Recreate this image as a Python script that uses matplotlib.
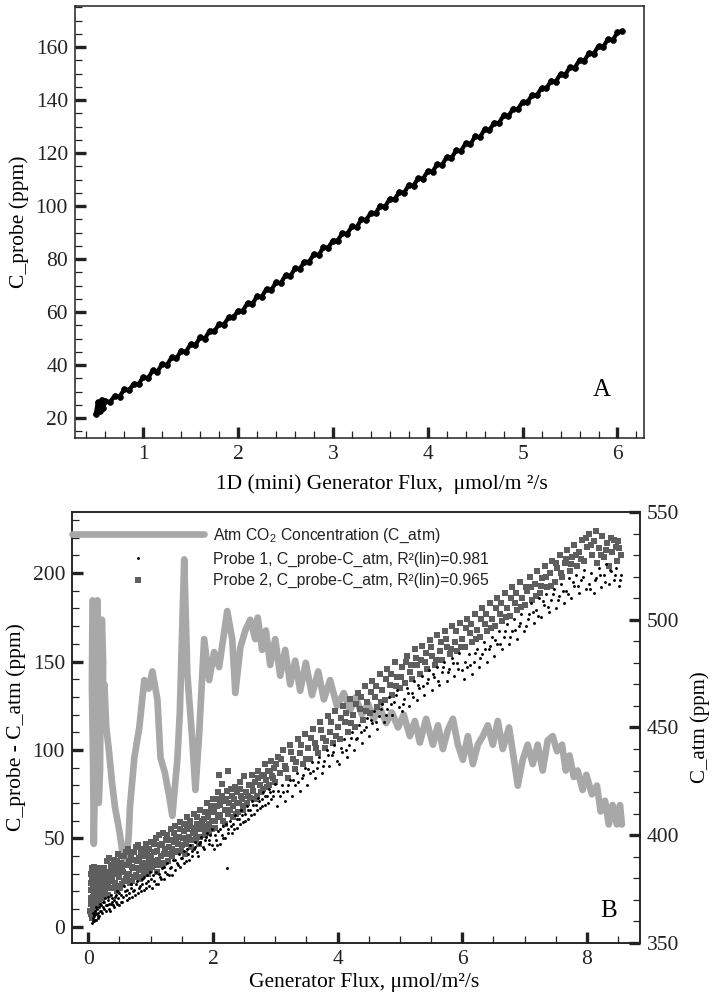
import matplotlib
matplotlib.use('Agg')
import matplotlib.pyplot as plt
from matplotlib.ticker import MultipleLocator

plt.rcParams['font.family'] = ['Liberation Serif', 'DejaVu Serif']
plt.rcParams['mathtext.default'] = 'regular'

# ---- panel A : 1D (mini) generator ----
flux_a = [0.50, 0.52, 0.54, 0.56, 0.58, 0.60, 0.65, 0.70, 0.75, 0.80, 0.85, 0.90, 0.95,
          1.00, 1.05, 1.10, 1.15, 1.20, 1.25, 1.30, 1.35, 1.40, 1.45, 1.50, 1.55, 1.60,
          1.65, 1.70, 1.75, 1.80, 1.85, 1.90, 1.95, 2.00, 2.05, 2.10, 2.15, 2.20, 2.25,
          2.30, 2.35, 2.40, 2.45, 2.50, 2.55, 2.60, 2.65, 2.70, 2.75, 2.80, 2.85, 2.90,
          2.95, 3.00, 3.05, 3.10, 3.15, 3.20, 3.25, 3.30, 3.35, 3.40, 3.45, 3.50, 3.55,
          3.60, 3.65, 3.70, 3.75, 3.80, 3.85, 3.90, 3.95, 4.00, 4.05, 4.10, 4.15, 4.20,
          4.25, 4.30, 4.35, 4.40, 4.45, 4.50, 4.55, 4.60, 4.65, 4.70, 4.75, 4.80, 4.85,
          4.90, 4.95, 5.00, 5.05, 5.10, 5.15, 5.20, 5.25, 5.30, 5.35, 5.40, 5.45, 5.50,
          5.55, 5.60, 5.65, 5.70, 5.75, 5.80, 5.85, 5.90, 5.95, 6.00, 6.05]
cprobe_a = [21.5, 26.0, 22.5, 27.0, 24.0, 26.5, 26.0, 28.5, 28.0, 31.0, 30.5, 33.0, 32.8,
            35.5, 35.0, 38.0, 37.5, 40.5, 40.0, 43.0, 42.5, 45.5, 45.0, 48.0, 47.5, 50.5,
            50.0, 53.0, 52.8, 55.5, 55.3, 58.0, 58.0, 60.5, 60.5, 63.5, 63.0, 66.0, 65.8,
            68.8, 68.3, 71.3, 70.8, 74.0, 73.5, 76.5, 76.3, 79.0, 79.0, 82.0, 81.5, 84.5,
            84.3, 87.0, 87.0, 89.8, 89.5, 92.3, 92.0, 95.0, 94.8, 97.5, 97.3, 100.2, 99.8,
            102.8, 102.5, 105.4, 105.0, 108.0, 107.7, 110.6, 110.3, 113.2, 113.0, 115.8, 115.5, 118.5,
            118.2, 121.0, 120.8, 123.7, 123.4, 126.3, 126.0, 129.0, 128.6, 131.5, 131.3, 134.2, 133.9,
            136.8, 136.5, 139.4, 139.1, 142.0, 141.8, 144.6, 144.4, 147.3, 147.0, 149.9, 149.6, 152.5,
            152.2, 155.1, 154.9, 157.7, 157.5, 160.4, 160.1, 163.0, 162.7, 165.5, 166.0]

# ---- panel B : atmospheric CO2 (right axis) ----
atm_flux = [0.07, 0.06, 0.08, 0.09, 0.11, 0.10, 0.12, 0.15, 0.16, 0.14, 0.17, 0.19,
            0.20, 0.22, 0.24, 0.23, 0.26, 0.29, 0.33, 0.38, 0.43, 0.50,
            0.56, 0.61, 0.65, 0.67, 0.74, 0.82, 0.90, 0.97, 1.03, 1.11, 1.16, 1.23,
            1.30, 1.35, 1.43, 1.47, 1.54, 1.59, 1.67, 1.72, 1.78, 1.86, 1.94, 2.02,
            2.10, 2.23, 2.31, 2.36, 2.44, 2.52, 2.60, 2.68, 2.72, 2.79, 2.85, 2.92,
            3.00, 3.08, 3.16, 3.24, 3.32, 3.40, 3.49, 3.59, 3.69, 3.78, 3.88, 3.99,
            4.10, 4.20, 4.29, 4.39, 4.49, 4.58, 4.68, 4.78, 4.87, 4.97, 5.06, 5.16,
            5.24, 5.32, 5.42, 5.53, 5.61, 5.69, 5.77, 5.85, 5.93, 6.01, 6.09, 6.17,
            6.25, 6.33, 6.41, 6.49, 6.57, 6.65, 6.75, 6.83, 6.89, 6.97, 7.05, 7.13,
            7.21, 7.29, 7.37, 7.45, 7.52, 7.60, 7.66, 7.72, 7.79, 7.85, 7.93, 7.99,
            8.08, 8.16, 8.22, 8.29, 8.35, 8.41, 8.48, 8.53, 8.56]
atm_ppm = [509, 470, 430, 396, 430, 470, 505, 509, 475, 440, 415, 430,
           470, 500, 480, 455, 470, 450, 440, 425, 413, 402,
           390, 388, 400, 413, 436, 450, 472, 468, 476, 463, 436, 429,
           418, 409, 435, 457, 528, 475, 444, 421, 447, 491, 472, 485,
           478, 504, 491, 466, 487, 495, 500, 491, 501, 486, 495, 479,
           491, 474, 486, 470, 481, 467, 480, 465, 476, 463, 472, 460,
           466, 458, 464, 456, 461, 454, 459, 452, 457, 450, 456, 446,
           453, 443, 454, 442, 451, 440, 449, 454, 442, 435, 446, 433,
           442, 446, 451, 442, 453, 440, 450, 435, 423, 435, 442, 433,
           442, 430, 444, 446, 439, 442, 430, 437, 427, 430, 421, 428,
           419, 423, 411, 416, 405, 414, 405, 414, 405]

# ---- panel B : probe 2 (squares) ----
p2_flux = [0.04, 0.05, 0.05, 0.06, 0.06, 0.07, 0.07, 0.08, 0.08, 0.09, 0.09, 0.10, 0.10,
           0.11, 0.11, 0.12, 0.12, 0.13, 0.14, 0.14, 0.15, 0.16, 0.17, 0.18, 0.19, 0.20,
           0.22, 0.24, 0.25, 0.27, 0.29, 0.30, 0.32, 0.33, 0.34, 0.36, 0.38, 0.40, 0.41,
           0.43, 0.45, 0.47, 0.48, 0.50, 0.52, 0.54, 0.56, 0.58, 0.60, 0.62, 0.64, 0.66,
           0.68, 0.70, 0.72, 0.74, 0.76, 0.78, 0.80, 0.82, 0.84, 0.86, 0.88, 0.90, 0.92,
           0.94, 0.96, 0.98, 1.00,
           1.02, 1.05, 1.08, 1.10, 1.12, 1.15, 1.18, 1.20, 1.22, 1.25, 1.28, 1.30, 1.33,
           1.35, 1.38, 1.40, 1.43, 1.45, 1.48, 1.50, 1.53, 1.55, 1.58, 1.60, 1.63, 1.65,
           1.68, 1.70, 1.73, 1.75, 1.78, 1.80, 1.83, 1.85, 1.88, 1.90, 1.93, 1.95, 1.98, 2.00,
           2.03, 2.06, 2.08, 2.10, 2.12, 2.15, 2.17, 2.20, 2.22, 2.25, 2.27, 2.30, 2.33,
           2.35, 2.38, 2.40, 2.43, 2.45, 2.48, 2.50, 2.53, 2.55, 2.58, 2.60, 2.63, 2.65,
           2.68, 2.70, 2.73, 2.75, 2.78, 2.80, 2.83, 2.85, 2.88, 2.90, 2.93, 2.95, 2.98, 3.00,
           3.04, 3.08, 3.12, 3.16, 3.20, 3.24, 3.28, 3.32, 3.36, 3.40, 3.44, 3.48, 3.52,
           3.56, 3.60, 3.64, 3.68, 3.72, 3.76, 3.80, 3.84, 3.88, 3.92, 3.96, 4.00,
           4.04, 4.08, 4.12, 4.16, 4.20, 4.24, 4.28, 4.32, 4.36, 4.40, 4.44, 4.48, 4.52,
           4.56, 4.60, 4.64, 4.68, 4.72, 4.76, 4.80, 4.84, 4.88, 4.92, 4.96, 5.00,
           5.04, 5.08, 5.12, 5.16, 5.20, 5.24, 5.28, 5.32, 5.36, 5.40, 5.44, 5.48, 5.52,
           5.56, 5.60, 5.64, 5.68, 5.72, 5.76, 5.80, 5.84, 5.88, 5.92, 5.96, 6.00,
           6.04, 6.08, 6.12, 6.16, 6.20, 6.24, 6.28, 6.32, 6.36, 6.40, 6.44, 6.48, 6.52,
           6.56, 6.60, 6.64, 6.68, 6.72, 6.76, 6.80, 6.84, 6.88, 6.92, 6.96, 7.00,
           7.04, 7.08, 7.12, 7.16, 7.20, 7.24, 7.28, 7.32, 7.36, 7.40, 7.44, 7.48, 7.52,
           7.56, 7.60, 7.64, 7.68, 7.72, 7.76, 7.80, 7.84, 7.88, 7.92, 7.96, 8.00,
           8.04, 8.08, 8.12, 8.16, 8.20, 8.24, 8.28, 8.32, 8.36, 8.40, 8.44, 8.48, 8.52, 8.55,
           # second pass through the cloud
           0.03, 0.04, 0.04, 0.05, 0.06, 0.07, 0.08, 0.09, 0.10, 0.10, 0.11, 0.12, 0.13,
           0.15, 0.15, 0.17, 0.18, 0.19, 0.21, 0.22, 0.23, 0.26, 0.28, 0.30, 0.31, 0.35,
           0.37, 0.39, 0.42, 0.44, 0.46, 0.49,
           0.51, 0.53, 0.55, 0.57, 0.59, 0.61, 0.63, 0.65, 0.67, 0.69, 0.71, 0.73, 0.75,
           0.77, 0.79, 0.81, 0.83, 0.85, 0.87, 0.89, 0.91, 0.93, 0.95, 0.97, 0.99,
           1.01, 1.04, 1.06, 1.09, 1.11, 1.13, 1.16, 1.19, 1.21, 1.24, 1.26, 1.29, 1.31,
           1.34, 1.37, 1.39, 1.41, 1.44, 1.47, 1.49, 1.52, 1.54, 1.57, 1.59, 1.62, 1.64,
           1.67, 1.69, 1.72, 1.74, 1.77, 1.79, 1.82, 1.84, 1.87, 1.89, 1.92, 1.94, 1.97, 1.99,
           2.02, 2.04, 2.07, 2.09, 2.11, 2.14, 2.16, 2.19, 2.21, 2.24, 2.26, 2.29, 2.32,
           2.34, 2.37, 2.39, 2.42, 2.44, 2.47, 2.49,
           2.56, 2.62, 2.67, 2.72, 2.77, 2.82, 2.87, 2.92, 2.97, 3.02, 3.10, 3.18, 3.26,
           3.34, 3.42, 3.50, 3.58, 3.66, 3.74, 3.82, 3.90, 3.98,
           4.06, 4.14, 4.22, 4.30, 4.38, 4.46, 4.54, 4.62, 4.70, 4.78, 4.86, 4.94, 5.02,
           5.10, 5.18, 5.26, 5.34, 5.42, 5.50, 5.58, 5.66, 5.74, 5.82, 5.90, 5.98, 6.06,
           6.14, 6.22, 6.30, 6.38, 6.46, 6.54, 6.62, 6.70, 6.78, 6.86, 6.94, 7.02, 7.10,
           7.18, 7.26, 7.34, 7.42, 7.50, 7.58, 7.66, 7.74, 7.82, 7.90, 7.98, 8.06, 8.14,
           8.22, 8.30, 8.38, 8.46, 8.50]
p2_ppm = [7, 13, 21, 28, 33, 10, 17, 24, 31, 14, 20, 27, 34,
          11, 18, 24, 30, 15, 22, 28, 33, 19, 26, 31, 21, 28,
          16, 24, 33, 20, 29, 37, 18, 39, 26, 33, 22, 30, 38,
          25, 34, 20, 41, 28, 36, 24, 31, 40, 27, 35, 44, 30,
          38, 26, 33, 42, 29, 37, 46, 32, 40, 28, 36, 44, 33,
          41, 30, 38, 48,
          34, 42, 50, 31, 38, 46, 35, 53, 41, 49, 37, 45, 55,
          40, 48, 57, 43, 51, 59, 46, 54, 41, 62, 49, 57, 45,
          53, 64, 50, 58, 47, 66, 55, 61, 52, 70, 58, 65, 55, 72,
          60, 68, 76, 86, 63, 81, 71, 58, 77, 88, 66, 74, 62,
          79, 70, 65, 82, 74, 68, 85, 76, 70, 80, 73, 86, 77,
          82, 74, 88, 80, 85, 78, 92, 83, 88, 80, 94, 85, 90, 82,
          96, 87, 100, 91, 84, 103, 95, 89, 106, 98, 92, 109, 101,
          95, 112, 104, 98, 116, 107, 101, 119, 110, 104, 122, 113,
          106, 125, 116, 110, 129, 120, 113, 132, 123, 117, 136, 127, 121,
          139, 130, 124, 143, 134, 128, 146, 137, 131, 150, 141, 135,
          147, 138, 153, 144, 140, 157, 148, 143, 159, 150, 146, 162, 153,
          148, 165, 156, 151, 167, 158, 154, 170, 161, 156, 172, 163,
          158, 174, 166, 161, 177, 168, 164, 180, 171, 167, 183, 174, 170,
          186, 177, 173, 189, 180, 176, 192, 183, 179, 195, 186, 182,
          190, 198, 185, 194, 201, 189, 197, 204, 192, 200, 207, 195, 203,
          210, 198, 206, 213, 201, 209, 216, 204, 212, 219, 207, 215,
          222, 210, 218, 206, 214, 221, 209, 217, 204, 212, 219, 207, 214, 210,
          9, 16, 25, 30, 5, 22, 14, 29, 8, 19, 25, 12, 33,
          16, 26, 21, 13, 32, 24, 31, 19, 27, 22, 31, 25, 29,
          35, 27, 32, 23, 37, 31,
          22, 40, 33, 26, 35, 42, 29, 37, 25, 41, 34, 28, 38,
          45, 33, 39, 27, 43, 34, 31, 40, 47, 36, 44, 32,
          40, 37, 47, 35, 43, 52, 40, 47, 36, 44, 52, 41, 49,
          44, 53, 42, 50, 47, 55, 43, 50, 58, 47, 55, 51, 60,
          49, 56, 53, 62, 55, 51, 60, 57, 65, 55, 62, 53, 68, 60,
          65, 56, 72, 62, 69, 74, 60, 66, 72, 64, 70, 78, 68,
          72, 64, 76, 70, 78, 72, 66,
          74, 80, 72, 84, 76, 86, 79, 88, 84, 92, 95, 89, 99,
          93, 103, 95, 107, 101, 111, 105, 116, 108,
          118, 121, 115, 126, 130, 122, 133, 136, 127, 140, 143, 136, 141,
          150, 148, 152, 151, 155, 158, 151, 161, 163, 157, 167, 158, 169,
          171, 163, 174, 177, 169, 180, 183, 175, 186, 189, 181, 192, 192,
          187, 193, 198, 193, 206, 200, 208, 205, 210, 208, 220, 216, 224,
          210, 213, 220, 215, 218]

# ---- panel B : probe 1 (dots) ----
p1_flux = [0.06, 0.07, 0.08, 0.09, 0.10, 0.11, 0.12, 0.13, 0.14, 0.15, 0.16, 0.17, 0.18,
           0.19, 0.20, 0.22, 0.24, 0.26, 0.28, 0.30, 0.32, 0.34, 0.36, 0.38, 0.40, 0.42,
           0.44, 0.46, 0.48, 0.50,
           0.53, 0.56, 0.59, 0.62, 0.65, 0.68, 0.71, 0.74, 0.77, 0.80, 0.83, 0.86, 0.89,
           0.92, 0.95, 0.98, 1.00,
           1.03, 1.06, 1.09, 1.12, 1.15, 1.18, 1.21, 1.24, 1.27, 1.30, 1.33, 1.36, 1.39,
           1.42, 1.45, 1.48, 1.51, 1.54, 1.57, 1.60, 1.63, 1.66, 1.69, 1.72, 1.75, 1.78,
           1.81, 1.84, 1.87, 1.90, 1.93, 1.96, 1.99,
           2.02, 2.05, 2.08, 2.11, 2.14, 2.17, 2.20, 2.22, 2.24, 2.27, 2.30, 2.33, 2.36,
           2.39, 2.42, 2.45, 2.48, 2.51, 2.54, 2.57, 2.60, 2.63, 2.66, 2.69, 2.72, 2.75,
           2.78, 2.81, 2.84, 2.87, 2.90, 2.93, 2.96, 2.99,
           3.03, 3.07, 3.11, 3.15, 3.19, 3.23, 3.27, 3.31, 3.35, 3.39, 3.43, 3.47, 3.51,
           3.55, 3.59, 3.63, 3.67, 3.71, 3.75, 3.79, 3.83, 3.87, 3.91, 3.95, 3.99,
           4.03, 4.07, 4.11, 4.15, 4.19, 4.23, 4.27, 4.31, 4.35, 4.39, 4.43, 4.47, 4.51,
           4.55, 4.59, 4.63, 4.67, 4.71, 4.75, 4.79, 4.83, 4.87, 4.91, 4.95, 4.99,
           5.03, 5.07, 5.11, 5.15, 5.19, 5.23, 5.27, 5.31, 5.35, 5.39, 5.43, 5.47, 5.51,
           5.55, 5.59, 5.63, 5.67, 5.71, 5.75, 5.79, 5.83, 5.87, 5.91, 5.95, 5.99,
           6.03, 6.07, 6.11, 6.15, 6.19, 6.23, 6.27, 6.31, 6.35, 6.39, 6.43, 6.47, 6.51,
           6.55, 6.59, 6.63, 6.67, 6.71, 6.75, 6.79, 6.83, 6.87, 6.91, 6.95, 6.99,
           7.03, 7.07, 7.11, 7.15, 7.19, 7.23, 7.27, 7.31, 7.35, 7.39, 7.43, 7.47, 7.51,
           7.55, 7.59, 7.63, 7.67, 7.71, 7.75, 7.79, 7.83, 7.87, 7.91, 7.95, 7.99,
           8.03, 8.07, 8.11, 8.15, 8.19, 8.23, 8.27, 8.31, 8.35, 8.39, 8.43, 8.47, 8.51, 8.55,
           # second pass through the cloud
           0.07, 0.09, 0.11, 0.13, 0.16, 0.19, 0.21, 0.23, 0.25, 0.27, 0.29, 0.31, 0.33,
           0.35, 0.37, 0.39, 0.41, 0.43, 0.45, 0.47, 0.49,
           0.52, 0.55, 0.58, 0.60, 0.63, 0.66, 0.69, 0.72, 0.75, 0.78, 0.81, 0.84, 0.87,
           0.90, 0.93, 0.96, 0.99,
           1.04, 1.08, 1.13, 1.17, 1.22, 1.26, 1.31, 1.35, 1.40, 1.44, 1.49, 1.53, 1.58,
           1.62, 1.67, 1.71, 1.76, 1.80, 1.85, 1.89, 1.94, 1.98,
           2.03, 2.07, 2.12, 2.16, 2.21, 2.25, 2.29, 2.34, 2.38, 2.43, 2.47, 2.52, 2.56,
           2.61, 2.65, 2.70, 2.74, 2.79, 2.83, 2.88, 2.92, 2.97,
           3.05, 3.13, 3.21, 3.29, 3.37, 3.45, 3.53, 3.61, 3.69, 3.77, 3.85, 3.93,
           4.05, 4.13, 4.21, 4.29, 4.37, 4.45, 4.53, 4.61, 4.69, 4.77, 4.85, 4.93,
           5.05, 5.13, 5.21, 5.29, 5.37, 5.45, 5.53, 5.61, 5.69, 5.77, 5.85, 5.93,
           6.05, 6.13, 6.21, 6.29, 6.37, 6.45, 6.53, 6.61, 6.69, 6.77, 6.85, 6.93,
           7.05, 7.13, 7.21, 7.29, 7.37, 7.45, 7.53, 7.61, 7.69, 7.77, 7.85, 7.93,
           8.05, 8.13, 8.21, 8.29, 8.37, 8.45, 8.53]
p1_ppm = [2, 5, 8, 3, 6, 9, 4, 7, 10, 5, 8, 11, 6,
          9, 12, 8, 11, 14, 9, 12, 15, 10, 13, 16, 12, 15,
          18, 13, 16, 19,
          14, 17, 20, 15, 19, 22, 17, 21, 24, 19, 23, 27, 21,
          25, 29, 23, 27,
          22, 26, 31, 24, 28, 33, 27, 31, 36, 29, 34, 38, 32,
          36, 41, 34, 39, 43, 37, 41, 46, 40, 44, 48, 42, 47,
          51, 45, 49, 53, 47, 52, 55,
          44, 49, 54, 47, 52, 57, 50, 33, 55, 60, 53, 58, 63,
          56, 61, 66, 59, 64, 68, 61, 66, 71, 64, 69, 73, 67,
          72, 76, 69, 74, 78, 72, 77, 81,
          68, 74, 80, 71, 77, 83, 74, 80, 87, 77, 84, 90, 80,
          87, 93, 84, 90, 96, 87, 94, 100, 91, 97, 103, 94,
          92, 99, 106, 96, 103, 110, 100, 107, 114, 104, 111, 118, 108,
          115, 122, 112, 119, 126, 116, 123, 130, 120, 127, 134, 124,
          122, 129, 135, 125, 132, 139, 128, 135, 142, 131, 138, 145, 134,
          141, 147, 137, 144, 150, 139, 146, 152, 142, 149, 155, 145,
          140, 147, 154, 143, 150, 157, 147, 154, 161, 150, 157, 164, 153,
          160, 167, 157, 164, 171, 160, 167, 174, 163, 170, 177, 167,
          170, 177, 183, 172, 179, 186, 175, 182, 188, 178, 185, 191, 180,
          187, 194, 183, 190, 197, 186, 193, 199, 189, 196, 202, 191,
          194, 200, 189, 197, 203, 192, 199, 205, 194, 201, 196, 203, 193, 199,
          3, 7, 4, 11, 6, 13, 9, 14, 10, 16, 12, 17, 13,
          9, 18, 14, 11, 17, 14, 20, 12,
          18, 14, 23, 18, 21, 16, 24, 20, 18, 26, 22, 20, 24,
          28, 22, 26, 31,
          29, 24, 30, 27, 34, 30, 33, 29, 38, 35, 39, 36, 44,
          38, 43, 45, 40, 48, 44, 51, 49, 46,
          52, 46, 55, 50, 58, 53, 57, 55, 61, 58, 63, 60, 66,
          63, 69, 66, 71, 68, 74, 70, 76, 74,
          77, 76, 80, 83, 82, 86, 89, 88, 93, 91, 97, 99,
          101, 100, 107, 106, 110, 113, 117, 116, 123, 120, 126, 131,
          126, 132, 130, 137, 136, 140, 143, 139, 147, 144, 149, 146,
          150, 148, 155, 152, 157, 159, 162, 160, 167, 164, 168, 172,
          174, 178, 176, 184, 181, 188, 185, 190, 188, 195, 193, 198,
          191, 196, 199, 195, 202, 199, 196]

atm_color = '#a8a8a8'
p2_color = '#5e5e5e'
spine_color = '#222222'


def style_axis(ax):
    for s in ax.spines.values():
        s.set_linewidth(1.1)
        s.set_color(spine_color)
    ax.tick_params(which='both', direction='in', colors=spine_color, labelsize=15.5,
                   labelcolor='#222222')
    ax.tick_params(which='major', length=8, width=2.4, pad=5)
    ax.tick_params(which='minor', length=5, width=0.9)


fig = plt.figure(figsize=(7.14, 9.97), dpi=100)

# ---------------- panel A ----------------
ax1 = fig.add_axes([0.105, 0.5607, 0.797, 0.4333])
ax1.plot(flux_a, cprobe_a, '-', color='black', lw=3.0)
ax1.plot(flux_a, cprobe_a, 'o', color='black', ms=4.2, mew=0.5)
ax1.set_xlim(0.28, 6.28)
ax1.set_ylim(12.5, 175.5)
ax1.xaxis.set_major_locator(MultipleLocator(1))
ax1.xaxis.set_minor_locator(MultipleLocator(0.2))
ax1.yaxis.set_major_locator(MultipleLocator(20))
ax1.yaxis.set_minor_locator(MultipleLocator(5))
style_axis(ax1)
ax1.tick_params(top=False, right=False, which='both')
ax1.set_xlabel('1D (mini) Generator Flux,  \u03bcmol/m \u00b2/s', fontsize=15.5)
ax1.xaxis.set_label_coords(0.54, -0.085)
ax1.set_ylabel('C_probe (ppm)', fontsize=15.5, labelpad=5)
ax1.text(0.925, 0.11, 'A', transform=ax1.transAxes, fontsize=18, ha='center', va='center')

# ---------------- panel B ----------------
ax = fig.add_axes([0.1008, 0.0542, 0.7955, 0.4323])
ax2 = ax.twinx()
atm_line, = ax2.plot(atm_flux, atm_ppm, color=atm_color, lw=4.8, solid_joinstyle='round',
                     solid_capstyle='round')
p1, = ax.plot(p1_flux, p1_ppm, 'o', color='black', ms=2.1, mew=0, linestyle='none')
p2, = ax.plot(p2_flux, p2_ppm, 's', color=p2_color, ms=4.1, mew=0, linestyle='none')
p1.set_zorder(3)
ax.set_zorder(ax2.get_zorder() + 1)
ax.patch.set_visible(False)

ax.set_xlim(-0.26, 8.85)
ax.set_ylim(-9.2, 234.6)
ax2.set_ylim(350, 550)
ax.xaxis.set_major_locator(MultipleLocator(2))
ax.xaxis.set_minor_locator(MultipleLocator(0.5))
ax.yaxis.set_major_locator(MultipleLocator(50))
ax.yaxis.set_minor_locator(MultipleLocator(10))
ax2.yaxis.set_major_locator(MultipleLocator(50))
ax2.yaxis.set_minor_locator(MultipleLocator(10))
style_axis(ax)
style_axis(ax2)
ax.tick_params(top=False, right=False, which='both')
ax2.tick_params(left=False, which='both')

ax.set_xlabel('Generator Flux, \u03bcmol/m\u00b2/s', fontsize=15.5)
ax.xaxis.set_label_coords(0.515, -0.07)
ax.set_ylabel('C_probe - C_atm (ppm)', fontsize=15.5, labelpad=5)
ax2.set_ylabel('C_atm (ppm)', fontsize=15, labelpad=8)
ax.text(0.945, 0.075, 'B', transform=ax.transAxes, fontsize=18, ha='center', va='center')

leg = ax.legend([atm_line, p1, p2],
                ['Atm CO$_2$ Concentration (C_atm)',
                 'Probe 1, C_probe-C_atm, R\u00b2(lin)=0.981',
                 'Probe 2, C_probe-C_atm, R\u00b2(lin)=0.965'],
                loc='upper left', bbox_to_anchor=(0.0, 0.966), frameon=False,
                borderpad=0, borderaxespad=0, handlelength=8.4, handletextpad=0.6,
                labelspacing=0.42, numpoints=1,
                prop={'family': 'Liberation Sans', 'size': 11.3})
for t in leg.get_texts():
    t.set_color('#222222')

fig.savefig('out.png', dpi=100)
